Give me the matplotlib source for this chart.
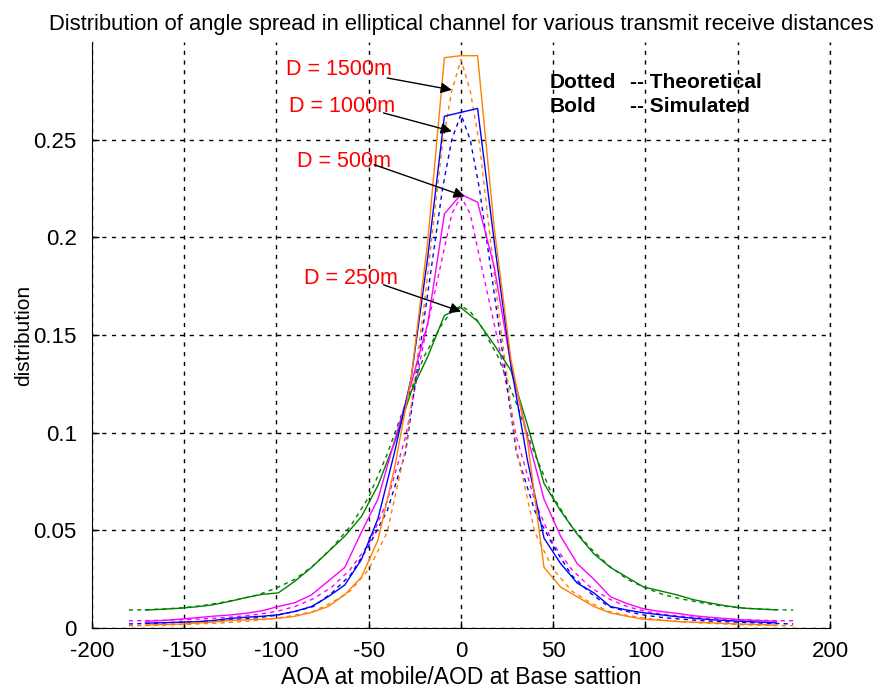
import matplotlib
matplotlib.use('Agg')
import matplotlib.pyplot as plt

plt.rcParams['font.family'] = ['Liberation Sans', 'DejaVu Sans']
plt.rcParams['axes.unicode_minus'] = False

# simulated histograms, bin centres every 9 deg
ang_sim = [-171, -162, -153, -144, -135, -126, -117, -108, -99, -90, -81, -72, -63, -54, -45, -36, -27, -18, -9,
           0, 9, 18, 27, 36, 45, 54, 63, 72, 81, 90, 99, 108, 117, 126, 135, 144, 153, 162, 171]
sim_250 = [0.0092, 0.0096, 0.0101, 0.0108, 0.0118, 0.0135, 0.0155, 0.0172, 0.018, 0.024, 0.031, 0.039, 0.047,
           0.057, 0.073, 0.095, 0.121, 0.139, 0.160, 0.164, 0.157, 0.145, 0.132, 0.104, 0.074, 0.060, 0.048,
           0.038, 0.031, 0.026, 0.021, 0.019, 0.017, 0.0145, 0.0128, 0.0113, 0.0102, 0.0097, 0.0093]
sim_500 = [0.0035, 0.0038, 0.0045, 0.0052, 0.006, 0.0066, 0.0075, 0.0088, 0.011, 0.013, 0.017, 0.024, 0.031,
           0.049, 0.066, 0.096, 0.125, 0.156, 0.212, 0.222, 0.218, 0.185, 0.135, 0.098, 0.066, 0.047, 0.033,
           0.025, 0.016, 0.0125, 0.0098, 0.0085, 0.0075, 0.0063, 0.0055, 0.0048, 0.0042, 0.0038, 0.0034]
sim_1000 = [0.0025, 0.0027, 0.003, 0.0032, 0.0038, 0.0048, 0.0055, 0.006, 0.0068, 0.0085, 0.011, 0.016, 0.022,
            0.035, 0.056, 0.090, 0.128, 0.190, 0.262, 0.264, 0.266, 0.198, 0.135, 0.086, 0.046, 0.033, 0.023,
            0.018, 0.011, 0.0092, 0.0078, 0.0068, 0.0058, 0.005, 0.0043, 0.0038, 0.0034, 0.003, 0.0026]
sim_1500 = [0.0015, 0.0018, 0.002, 0.0025, 0.003, 0.0038, 0.0042, 0.0045, 0.005, 0.006, 0.008, 0.011, 0.017,
            0.026, 0.045, 0.082, 0.128, 0.198, 0.292, 0.293, 0.293, 0.205, 0.138, 0.096, 0.031, 0.021, 0.016,
            0.011, 0.0077, 0.006, 0.0045, 0.004, 0.0033, 0.003, 0.0027, 0.0023, 0.002, 0.0018, 0.0015]

# theoretical pdf
ang_th = [-180, -170, -160, -150, -140, -130, -120, -110, -100, -90, -80, -70, -60, -50, -40, -30, -20, -10,
          -5, 0, 5, 10, 20, 30, 40, 50, 60, 70, 80, 90, 100, 110, 120, 130, 140, 150, 160, 170, 180]
th_250 = [0.0092, 0.0094, 0.0098, 0.0104, 0.0115, 0.013, 0.0148, 0.017, 0.0205, 0.025, 0.032, 0.041, 0.052,
          0.067, 0.089, 0.115, 0.139, 0.156, 0.162, 0.165, 0.162, 0.156, 0.139, 0.115, 0.089, 0.067, 0.052,
          0.041, 0.032, 0.025, 0.0205, 0.017, 0.0148, 0.013, 0.0115, 0.0104, 0.0098, 0.0094, 0.0092]
th_500 = [0.0037, 0.0038, 0.004, 0.0043, 0.0047, 0.0052, 0.006, 0.007, 0.0085, 0.011, 0.015, 0.021, 0.030,
          0.043, 0.065, 0.098, 0.147, 0.190, 0.212, 0.221, 0.212, 0.190, 0.147, 0.098, 0.065, 0.043, 0.030,
          0.021, 0.015, 0.011, 0.0085, 0.007, 0.006, 0.0052, 0.0047, 0.0043, 0.004, 0.0038, 0.0037]
th_1000 = [0.0021, 0.0023, 0.0026, 0.003, 0.0033, 0.0038, 0.0045, 0.0053, 0.0065, 0.0085, 0.011, 0.018, 0.027,
           0.042, 0.060, 0.090, 0.158, 0.225, 0.250, 0.263, 0.250, 0.225, 0.158, 0.090, 0.060, 0.042, 0.027,
           0.018, 0.011, 0.0085, 0.0065, 0.0053, 0.0045, 0.0038, 0.0033, 0.003, 0.0026, 0.0023, 0.0021]
th_1500 = [0.0012, 0.0013, 0.0015, 0.0018, 0.0022, 0.0026, 0.0032, 0.004, 0.005, 0.0065, 0.0085, 0.013, 0.019,
           0.030, 0.049, 0.092, 0.165, 0.248, 0.275, 0.291, 0.275, 0.248, 0.165, 0.092, 0.049, 0.030, 0.019,
           0.013, 0.0085, 0.0065, 0.005, 0.004, 0.0032, 0.0026, 0.0022, 0.0018, 0.0015, 0.0013, 0.0012]

labels = ['D = 1500m', 'D = 1000m', 'D = 500m', 'D = 250m']
label_xy = [(-95, 0.286), (-93, 0.267), (-89, 0.239), (-85, 0.179)]
arrow_from = [(-40, 0.2816), (-42, 0.2637), (-47, 0.2372), (-42, 0.1757)]
arrow_to = [(-5, 0.2755), (-5, 0.2543), (2, 0.221), (0, 0.162)]

c_or = '#ff8000'
c_bl = '#0000ff'
c_mg = '#ff00ff'
c_gr = '#008000'

fig = plt.figure(figsize=(8.81, 6.89), dpi=100)
ax = fig.add_axes([0.1044, 0.0885, 0.8377, 0.8505])

dash = (3, 3)
ax.plot(ang_th, th_250, color=c_gr, lw=1, dashes=dash)
ax.plot(ang_th, th_500, color=c_mg, lw=1, dashes=dash)
ax.plot(ang_th, th_1000, color=c_bl, lw=1, dashes=dash)
ax.plot(ang_th, th_1500, color=c_or, lw=1, dashes=dash)
ax.plot(ang_sim, sim_250, color=c_gr, lw=1)
ax.plot(ang_sim, sim_500, color=c_mg, lw=1)
ax.plot(ang_sim, sim_1000, color=c_bl, lw=1)
ax.plot(ang_sim, sim_1500, color=c_or, lw=1)

ax.set_xlim(-200, 200)
ax.set_ylim(0, 0.3)
ax.set_xticks([-200, -150, -100, -50, 0, 50, 100, 150, 200])
ax.set_yticks([0, 0.05, 0.1, 0.15, 0.2, 0.25])
ax.set_yticklabels(['0', '0.05', '0.1', '0.15', '0.2', '0.25'])
ax.tick_params(direction='in', length=5, labelsize=16, width=1)
ax.tick_params(axis='x', pad=9)
ax.tick_params(axis='y', pad=11)
ax.grid(True, color='k', lw=1, dashes=(3, 4))
ax.axvline(200, color='k', lw=1, dashes=(3, 4), clip_on=False)
ax.spines['top'].set_visible(False)
ax.spines['right'].set_visible(False)

for i in range(4):
    ax.text(label_xy[i][0], label_xy[i][1], labels[i], color='red', fontsize=15.5, va='center')
    ax.annotate('', xy=arrow_to[i], xytext=arrow_from[i],
                arrowprops=dict(arrowstyle='-|>', color='k', lw=1, mutation_scale=16, shrinkA=0, shrinkB=0))

ax.text(48, 0.2792, 'Dotted', fontsize=15, fontweight='bold', va='center')
ax.text(91.6, 0.2792, '-- Theoretical', fontsize=15, fontweight='bold', va='center')
ax.text(48, 0.2669, 'Bold', fontsize=15, fontweight='bold', va='center')
ax.text(91.6, 0.2669, '-- Simulated', fontsize=15, fontweight='bold', va='center')

ax.set_title('Distribution of angle spread in elliptical channel for various transmit receive distances',
             fontsize=15.8, pad=9)
ax.set_xlabel('AOA at mobile/AOD at Base sattion', fontsize=16.5, labelpad=3)
ax.set_ylabel('distribution', fontsize=15, labelpad=0)

plt.savefig('out.png')
plt.close()
